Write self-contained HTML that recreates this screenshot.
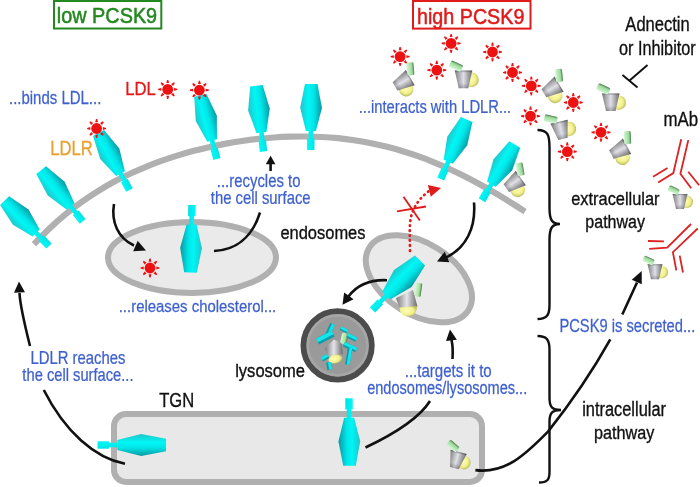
<!DOCTYPE html>
<html><head><meta charset="utf-8"><style>
html,body{margin:0;padding:0;background:#fff;overflow:hidden;width:700px;height:487px;}
svg{display:block;will-change:transform;}
text{font-family:"Liberation Sans",sans-serif;}
</style></head><body>
<svg width="700" height="487" viewBox="0 0 700 487">
<defs><linearGradient id="pcg2" x1="0" y1="0" x2="1" y2="0"><stop offset="0" stop-color="#7a7a7a"/><stop offset="0.5" stop-color="#e4e4ea"/><stop offset="1" stop-color="#6a6a6a"/></linearGradient><linearGradient id="pcgrh" x1="0" y1="0" x2="1" y2="0"><stop offset="0" stop-color="#d4f8d0"/><stop offset="0.65" stop-color="#a8e0a0"/><stop offset="1" stop-color="#4e7e4e"/></linearGradient><linearGradient id="lg1" gradientUnits="userSpaceOnUse" x1="12.91" y1="224.69" x2="28.5" y2="209.45"><stop offset="0" stop-color="#22c4c8"/><stop offset="0.38" stop-color="#00f6f6"/><stop offset="0.62" stop-color="#00e6e8"/><stop offset="1" stop-color="#0a98a2"/></linearGradient><linearGradient id="lg2" gradientUnits="userSpaceOnUse" x1="47.76" y1="195.58" x2="64.68" y2="181.83"><stop offset="0" stop-color="#22c4c8"/><stop offset="0.38" stop-color="#00f6f6"/><stop offset="0.62" stop-color="#00e6e8"/><stop offset="1" stop-color="#0a98a2"/></linearGradient><linearGradient id="lg3" gradientUnits="userSpaceOnUse" x1="100.17" y1="158.95" x2="119.32" y2="148.52"><stop offset="0" stop-color="#22c4c8"/><stop offset="0.38" stop-color="#00f6f6"/><stop offset="0.62" stop-color="#00e6e8"/><stop offset="1" stop-color="#0a98a2"/></linearGradient><linearGradient id="lg4" gradientUnits="userSpaceOnUse" x1="195.77" y1="121.12" x2="216.87" y2="115.63"><stop offset="0" stop-color="#22c4c8"/><stop offset="0.38" stop-color="#00f6f6"/><stop offset="0.62" stop-color="#00e6e8"/><stop offset="1" stop-color="#0a98a2"/></linearGradient><linearGradient id="lg5" gradientUnits="userSpaceOnUse" x1="248.14" y1="110.8" x2="269.81" y2="108.46"><stop offset="0" stop-color="#22c4c8"/><stop offset="0.38" stop-color="#00f6f6"/><stop offset="0.62" stop-color="#00e6e8"/><stop offset="1" stop-color="#0a98a2"/></linearGradient><linearGradient id="lg6" gradientUnits="userSpaceOnUse" x1="300.17" y1="107.86" x2="321.97" y2="108.02"><stop offset="0" stop-color="#22c4c8"/><stop offset="0.38" stop-color="#00f6f6"/><stop offset="0.62" stop-color="#00e6e8"/><stop offset="1" stop-color="#0a98a2"/></linearGradient><linearGradient id="lg7" gradientUnits="userSpaceOnUse" x1="447.26" y1="136.66" x2="467.25" y2="145.37"><stop offset="0" stop-color="#22c4c8"/><stop offset="0.38" stop-color="#00f6f6"/><stop offset="0.62" stop-color="#00e6e8"/><stop offset="1" stop-color="#0a98a2"/></linearGradient><linearGradient id="lg8" gradientUnits="userSpaceOnUse" x1="493.48" y1="159.21" x2="512.25" y2="170.3"><stop offset="0" stop-color="#22c4c8"/><stop offset="0.38" stop-color="#00f6f6"/><stop offset="0.62" stop-color="#00e6e8"/><stop offset="1" stop-color="#0a98a2"/></linearGradient><linearGradient id="lg9" gradientUnits="userSpaceOnUse" x1="201.94" y1="248.26" x2="180.15" y2="247.77"><stop offset="0" stop-color="#22c4c8"/><stop offset="0.38" stop-color="#00f6f6"/><stop offset="0.62" stop-color="#00e6e8"/><stop offset="1" stop-color="#0a98a2"/></linearGradient><linearGradient id="lg10" gradientUnits="userSpaceOnUse" x1="393.96" y1="270" x2="411.58" y2="286.91"><stop offset="0" stop-color="#22c4c8"/><stop offset="0.38" stop-color="#00f6f6"/><stop offset="0.62" stop-color="#00e6e8"/><stop offset="1" stop-color="#0a98a2"/></linearGradient><linearGradient id="lg11" gradientUnits="userSpaceOnUse" x1="141.15" y1="434.1" x2="141.15" y2="455.9"><stop offset="0" stop-color="#22c4c8"/><stop offset="0.38" stop-color="#00f6f6"/><stop offset="0.62" stop-color="#00e6e8"/><stop offset="1" stop-color="#0a98a2"/></linearGradient><linearGradient id="lg12" gradientUnits="userSpaceOnUse" x1="360.22" y1="441.23" x2="338.42" y2="441.4"><stop offset="0" stop-color="#22c4c8"/><stop offset="0.38" stop-color="#00f6f6"/><stop offset="0.62" stop-color="#00e6e8"/><stop offset="1" stop-color="#0a98a2"/></linearGradient><symbol id="sun" overflow="visible"><g fill="#ee1111"><circle r="5.4"/><polygon points="1.4,-6.3 0.6,-9.5 -0.6,-9.5 -1.4,-6.3"/><polygon points="5.44,-3.46 7.14,-6.29 6.29,-7.14 3.46,-5.44"/><polygon points="6.3,1.4 9.5,0.6 9.5,-0.6 6.3,-1.4"/><polygon points="3.46,5.44 6.29,7.14 7.14,6.29 5.44,3.46"/><polygon points="-1.4,6.3 -0.6,9.5 0.6,9.5 1.4,6.3"/><polygon points="-5.44,3.46 -7.14,6.29 -6.29,7.14 -3.46,5.44"/><polygon points="-6.3,-1.4 -9.5,-0.6 -9.5,0.6 -6.3,1.4"/><polygon points="-3.46,-5.44 -6.29,-7.14 -7.14,-6.29 -5.44,-3.46"/></g></symbol><linearGradient id="pcg" x1="0" y1="0" x2="1" y2="0"><stop offset="0" stop-color="#7e7e7e"/><stop offset="0.5" stop-color="#e0e0e8"/><stop offset="1" stop-color="#6e6e6e"/></linearGradient><linearGradient id="pcgv" x1="0" y1="0" x2="0" y2="1"><stop offset="0" stop-color="#000" stop-opacity="0.35"/><stop offset="0.12" stop-color="#000" stop-opacity="0"/><stop offset="0.7" stop-color="#000" stop-opacity="0"/><stop offset="1" stop-color="#000" stop-opacity="0.25"/></linearGradient><radialGradient id="pcy" cx="0.4" cy="0.45" r="0.62"><stop offset="0" stop-color="#ffffb8"/><stop offset="0.65" stop-color="#f2f08c"/><stop offset="1" stop-color="#b8b860"/></radialGradient><linearGradient id="pcgr" x1="0" y1="0" x2="0" y2="1"><stop offset="0" stop-color="#4a7a4a"/><stop offset="0.28" stop-color="#9ad89a"/><stop offset="1" stop-color="#d4f8d4"/></linearGradient><symbol id="pc" overflow="visible"><circle cx="8" cy="0.5" r="7.3" fill="url(#pcy)"/><polygon points="-8.8,-8.8 8.8,-8.8 4.75,8.8 -4.75,8.8" fill="url(#pcg)"/><polygon points="-8.8,-8.8 8.8,-8.8 4.75,8.8 -4.75,8.8" fill="url(#pcgv)"/><rect x="-6.5" y="-3.5" width="13" height="7" rx="1.5" fill="url(#pcgr)" transform="translate(-7.5,-13.3) rotate(25)"/></symbol></defs>
<rect width="700" height="487" fill="#fff"/>
<path d="M34,244.2 C36.67,241.5 44.67,233.05 50,228 C55.33,222.95 60.67,218.28 66,213.9 C71.33,209.52 76.67,205.5 82,201.7 C87.33,197.9 92.67,194.42 98,191.1 C103.33,187.78 108.67,184.68 114,181.8 C119.33,178.92 124.67,176.3 130,173.8 C135.33,171.3 140.67,168.98 146,166.8 C151.33,164.62 156.67,162.6 162,160.7 C167.33,158.8 172.67,157.05 178,155.4 C183.33,153.75 188.67,152.22 194,150.8 C199.33,149.38 204.67,148.1 210,146.9 C215.33,145.7 220.67,144.58 226,143.6 C231.33,142.62 236.67,141.78 242,141 C247.33,140.22 252.67,139.48 258,138.9 C263.33,138.32 268.67,137.87 274,137.5 C279.33,137.13 284.67,136.87 290,136.7 C295.33,136.53 300.67,136.45 306,136.5 C311.33,136.55 316.67,136.72 322,137 C327.33,137.28 332.67,137.67 338,138.2 C343.33,138.73 348.67,139.4 354,140.2 C359.33,141 364.67,141.93 370,143 C375.33,144.07 380.67,145.27 386,146.6 C391.33,147.93 396.67,149.4 402,151 C407.33,152.6 412.67,154.32 418,156.2 C423.33,158.08 428.67,160.13 434,162.3 C439.33,164.47 444.67,166.75 450,169.2 C455.33,171.65 460.67,174.28 466,177 C471.33,179.72 476.67,182.55 482,185.5 C487.33,188.45 492.67,191.53 498,194.7 C503.33,197.87 509.5,201.68 514,204.5 C518.5,207.32 523.17,210.42 525,211.6" fill="none" stroke="#b0b0b0" stroke-width="6.2"/>
<ellipse cx="192" cy="257.5" rx="84" ry="35.5" fill="#eaeaea" stroke="#b0b0b0" stroke-width="6"/>
<ellipse cx="418.9" cy="278.8" rx="58.6" ry="35.6" transform="rotate(32.5 418.9 278.8)" fill="#eaeaea" stroke="#b0b0b0" stroke-width="6"/>
<circle cx="337.6" cy="345.4" r="34.2" fill="#9a9a9a" stroke="#4c4c4c" stroke-width="5.8"/>
<rect x="114" y="414" width="368" height="68" rx="12" fill="#e8e8e8" stroke="#b0b0b0" stroke-width="6"/>
<rect x="54" y="1" width="107.3" height="27.5" fill="none" stroke="#22881f" stroke-width="2"/>
<rect x="413" y="1" width="117.5" height="27.6" fill="none" stroke="#e01b1b" stroke-width="2"/>
<rect x="415" y="283" width="6.5" height="13.5" rx="1.2" fill="url(#pcgrh)" transform="rotate(8 418.2 289.7)"/>
<polygon points="396,298 413,290 417.5,306.5 399.5,308" fill="url(#pcg2)"/>
<path d="M399.5,307.5 L417,306 C417,313 413,316.5 408,316.5 C403,316.5 399.5,313 399.5,307.5 Z" fill="url(#pcy)"/>
<circle cx="337.6" cy="345.4" r="29.8" fill="none" stroke="#a6a6a6" stroke-width="2.5"/>
<polygon points="324.7,348.2 333.7,339.8 341.5,341.8 343,354 328.6,357.5" fill="url(#pcg2)"/>
<ellipse cx="335.4" cy="359" rx="7" ry="4.3" fill="url(#pcy)" transform="rotate(-12 335.4 359)"/>
<rect x="341" y="333" width="6.5" height="11" rx="2" fill="url(#pcgrh)" transform="rotate(12 344.2 338.5)"/>
<line x1="332.5" y1="324" x2="327.5" y2="335" stroke="#0c9ea8" stroke-width="5" stroke-linecap="butt"/>
<line x1="333.32" y1="324.37" x2="328.32" y2="335.37" stroke="#14e6ee" stroke-width="3" stroke-linecap="butt"/>
<line x1="317.5" y1="341.5" x2="333" y2="333.5" stroke="#0c9ea8" stroke-width="6.5" stroke-linecap="butt"/>
<line x1="316.96" y1="340.46" x2="332.46" y2="332.46" stroke="#14e6ee" stroke-width="3.9" stroke-linecap="butt"/>
<line x1="340.5" y1="328.3" x2="347.5" y2="331.5" stroke="#0c9ea8" stroke-width="4" stroke-linecap="butt"/>
<line x1="340.8" y1="327.65" x2="347.8" y2="330.85" stroke="#14e6ee" stroke-width="2.4" stroke-linecap="butt"/>
<line x1="347.3" y1="335.3" x2="356.3" y2="339.8" stroke="#0c9ea8" stroke-width="4.5" stroke-linecap="butt"/>
<line x1="347.66" y1="334.58" x2="356.66" y2="339.08" stroke="#14e6ee" stroke-width="2.7" stroke-linecap="butt"/>
<line x1="343.9" y1="344.3" x2="356.3" y2="350" stroke="#0c9ea8" stroke-width="5" stroke-linecap="butt"/>
<line x1="344.28" y1="343.48" x2="356.68" y2="349.18" stroke="#14e6ee" stroke-width="3" stroke-linecap="butt"/>
<line x1="350.1" y1="347.7" x2="347.3" y2="364.6" stroke="#0c9ea8" stroke-width="4.5" stroke-linecap="butt"/>
<line x1="350.9" y1="347.83" x2="348.1" y2="364.73" stroke="#14e6ee" stroke-width="2.7" stroke-linecap="butt"/>
<line x1="321.9" y1="359.5" x2="328.1" y2="356" stroke="#0c9ea8" stroke-width="4.5" stroke-linecap="butt"/>
<line x1="321.5" y1="358.79" x2="327.7" y2="355.29" stroke="#14e6ee" stroke-width="2.7" stroke-linecap="butt"/>
<line x1="328.6" y1="362.4" x2="329.8" y2="369.7" stroke="#0c9ea8" stroke-width="5" stroke-linecap="butt"/>
<line x1="329.49" y1="362.25" x2="330.69" y2="369.55" stroke="#14e6ee" stroke-width="3" stroke-linecap="butt"/>
<g fill="url(#lg1)"><polygon points="46.35,248.59 51.65,243.41 44.22,235.82 38.93,241"/><polygon points="40.28,240.38 43.57,237.16 37.47,230.92 34.19,234.14"/><polygon points="32.6,236.39 39.75,229.39 28.5,209.45 9.1,196.2 0.1,205 12.91,224.69"/></g>
<g fill="url(#lg2)"><polygon points="79.83,223.63 85.57,218.97 78.63,210.42 72.88,215.08"/><polygon points="74.28,214.59 77.85,211.69 72.17,204.69 68.6,207.59"/><polygon points="66.82,209.68 74.58,203.38 64.68,181.83 46.04,166.18 36.26,174.12 47.76,195.58"/></g>
<g fill="url(#lg3)"><polygon points="126.25,191.77 132.75,188.23 127.57,178.72 121.07,182.26"/><polygon points="122.54,182.03 126.58,179.83 122.33,172.03 118.29,174.23"/><polygon points="116.16,175.96 124.94,171.18 119.32,148.52 104.03,130.09 92.97,136.11 100.17,158.95"/></g>
<g fill="url(#lg4)"><polygon points="213.32,159.93 220.48,158.07 217.71,147.41 210.54,149.28"/><polygon points="212.03,149.41 216.48,148.25 214.21,139.53 209.75,140.69"/><polygon points="207.27,141.85 216.95,139.33 216.87,115.63 206.4,93.66 194.2,96.84 195.77,121.12"/></g>
<g fill="url(#lg5)"><polygon points="259.82,151.9 267.18,151.1 265.99,140.12 258.63,140.91"/><polygon points="260.08,141.26 264.65,140.77 263.68,131.78 259.11,132.28"/><polygon points="256.48,133.07 266.42,131.99 269.81,108.46 262.66,85.12 250.14,86.48 248.14,110.8"/></g>
<g fill="url(#lg6)"><polygon points="307.05,149.97 314.45,150.03 314.53,138.99 307.13,138.94"/><polygon points="308.53,139.45 313.13,139.48 313.2,130.46 308.6,130.42"/><polygon points="305.89,130.9 315.89,130.98 321.97,108.02 317.55,84.05 304.95,83.95 300.17,107.86"/></g>
<g fill="url(#lg7)"><polygon points="437.36,177.42 444.14,180.38 448.47,170.44 441.69,167.48"/><polygon points="442.77,168.5 446.99,170.34 450.54,162.19 446.32,160.36"/><polygon points="443.64,159.74 452.81,163.73 467.25,145.37 472.43,121.97 460.87,116.93 447.26,136.66"/></g>
<g fill="url(#lg8)"><polygon points="478.71,198.37 485.09,202.13 490.59,192.82 484.21,189.06"/><polygon points="485.17,190.2 489.13,192.54 493.63,184.91 489.67,182.57"/><polygon points="487.09,181.62 495.71,186.71 512.25,170.3 520.22,147.75 509.38,141.35 493.48,159.21"/></g>
<g fill="url(#lg9)"><polygon points="195.7,205.08 188.3,204.92 188.05,216.2 195.45,216.37"/><polygon points="194.06,215.84 189.46,215.73 189.26,224.94 193.86,225.04"/><polygon points="196.57,224.6 186.57,224.38 180.15,247.77 184.2,272.36 196.8,272.64 201.94,248.26"/></g>
<g fill="url(#lg10)"><polygon points="369.83,307.44 375.17,312.56 383.11,304.29 377.77,299.16"/><polygon points="378.44,300.49 381.75,303.68 388.22,296.94 384.9,293.75"/><polygon points="382.18,291.83 390.26,299.58 411.58,286.91 425.09,265.39 414.91,255.61 393.96,270"/></g>
<g fill="url(#lg11)"><polygon points="97.5,441.3 97.5,448.7 108.95,448.7 108.95,441.3"/><polygon points="108.45,442.7 108.45,447.3 117.78,447.3 117.78,442.7"/><polygon points="117.28,440 117.28,450 141.15,455.9 166,451.3 166,438.7 141.15,434.1"/></g>
<g fill="url(#lg12)"><polygon points="352.7,398.27 345.3,398.33 345.38,409.61 352.78,409.56"/><polygon points="351.38,409.07 346.78,409.1 346.85,418.31 351.45,418.27"/><polygon points="354.14,417.75 344.14,417.83 338.42,441.4 343.2,465.85 355.8,465.75 360.22,441.23"/></g>
<use href="#sun" transform="translate(167.7,89.4) scale(1)"/>
<use href="#sun" transform="translate(199.4,90.2) scale(1)"/>
<use href="#sun" transform="translate(96.6,128.5) scale(1)"/>
<use href="#sun" transform="translate(150,268) scale(1)"/>
<use href="#sun" transform="translate(400.1,56.6) scale(1)"/>
<use href="#sun" transform="translate(451.1,43.4) scale(1)"/>
<use href="#sun" transform="translate(436.8,70.2) scale(1)"/>
<use href="#sun" transform="translate(492.5,52) scale(1)"/>
<use href="#sun" transform="translate(512.5,72.5) scale(1)"/>
<use href="#sun" transform="translate(531.3,85.9) scale(1)"/>
<use href="#sun" transform="translate(573.3,102.5) scale(1)"/>
<use href="#sun" transform="translate(530.5,116.1) scale(1)"/>
<use href="#sun" transform="translate(601,132.3) scale(1)"/>
<use href="#sun" transform="translate(567.3,151.7) scale(1)"/>
<use href="#pc" transform="translate(402.65,82.05) rotate(60) scale(1)"/>
<use href="#pc" transform="translate(463.5,79.4) rotate(0) scale(1)"/>
<use href="#pc" transform="translate(551.5,88.7) rotate(59) scale(1)"/>
<use href="#pc" transform="translate(610.75,102.2) rotate(0) scale(1)"/>
<use href="#pc" transform="translate(561,130.3) rotate(-13) scale(1)"/>
<use href="#pc" transform="translate(619.2,150.4) rotate(62) scale(1)"/>
<use href="#pc" transform="translate(680,201.4) rotate(0) scale(0.85)"/>
<use href="#pc" transform="translate(655,271.7) rotate(0) scale(0.85)"/>
<use href="#pc" transform="translate(513.5,183) rotate(55) scale(1)"/>
<use href="#pc" transform="translate(456.5,460) rotate(15) scale(0.95)"/>
<path d="M114,204 C111,222 118,238 134,245.5" fill="none" stroke="#111" stroke-width="2.6" />
<polygon points="146,250.5 133.15,251.3 137.71,240.64" fill="#111"/>
<path d="M214,251 C235,250 252,238 260,212.5" fill="none" stroke="#111" stroke-width="2.6" />
<path d="M270.6,171 L270.6,162" fill="none" stroke="#111" stroke-width="2.6" />
<polygon points="270.6,155.7 275.4,164.2 265.8,164.2" fill="#111"/>
<path d="M474,202.5 C476,228 466,248 446,257.5" fill="none" stroke="#111" stroke-width="2.6" />
<polygon points="437,261.5 444.65,251.7 449.41,262.28" fill="#111"/>
<path d="M387,280.2 C370,279.5 357,285 348.5,296.5" fill="none" stroke="#111" stroke-width="2.6" />
<polygon points="342.5,304.8 344.12,292.47 353.59,299.17" fill="#111"/>
<path d="M365.5,447.5 C392,435 418,420 430,401" fill="none" stroke="#111" stroke-width="2.6" />
<path d="M452.5,359 C453,351 452.5,344 451.5,340" fill="none" stroke="#111" stroke-width="2.6" />
<polygon points="450,329.5 456.88,339.7 445.97,341.12" fill="#111"/>
<path d="M125,463.8 C95,458 65,432 43.8,390" fill="none" stroke="#111" stroke-width="2.6" />
<path d="M30,346 C24,322 20,305 19.5,293" fill="none" stroke="#111" stroke-width="2.6" />
<polygon points="19,281.5 24.97,292.25 13.98,292.73" fill="#111"/>
<path d="M475.4,470.1 C505,474 525,455 548,431.6 C570,404 592,372 610.3,339.4" fill="none" stroke="#111" stroke-width="2.6" />
<path d="M622.3,314.5 L637,282.5" fill="none" stroke="#111" stroke-width="2.6" />
<polygon points="641.7,271.1 641.78,284.3 631.75,279.78" fill="#111"/>
<path d="M537.5,130 C548,130 549.5,135 549.5,148 L549.5,208 C549.5,220 552,224 560,224 C552,224 549.5,228 549.5,240 L549.5,305 C549.5,315 547,319 537.5,319" fill="none" stroke="#111" stroke-width="2.4" />
<path d="M537.5,336 C547,336 549.5,340 549.5,350 L549.5,398 C549.5,407 552,410 561,410 C552,410 549.5,413 549.5,422 L549.5,472 C549.5,480 547,482.5 539,482.5" fill="none" stroke="#111" stroke-width="2.4" />
<path d="M647.5,65 L629,81" fill="none" stroke="#111" stroke-width="2" />
<path d="M622.5,75 L637.5,87.5" fill="none" stroke="#111" stroke-width="2" />
<path d="M681.2,139.3 L673.3,173.1 L658.2,182.5" fill="none" stroke="#dd2222" stroke-width="1.8" />
<path d="M688.3,140.1 L680.4,173.8 L691.2,188.2" fill="none" stroke="#dd2222" stroke-width="1.8" />
<path d="M653.1,176.7 L667.5,168.1" fill="none" stroke="#dd2222" stroke-width="1.8" />
<path d="M688.3,171.7 L699.1,185.3" fill="none" stroke="#dd2222" stroke-width="1.8" />
<path d="M691,224 L667.2,247.7 L649.2,248.8" fill="none" stroke="#dd2222" stroke-width="1.8" />
<path d="M697.7,228.5 L672.9,252.2 L676.3,270.3" fill="none" stroke="#dd2222" stroke-width="1.8" />
<path d="M648,241 L663.9,241.4" fill="none" stroke="#dd2222" stroke-width="1.8" />
<path d="M679.7,255.6 L683,272.5" fill="none" stroke="#dd2222" stroke-width="1.8" />
<path d="M410,251 C410,238 409,226 411,217 C414,205 421,197 429,191" fill="none" stroke="#e01b1b" stroke-width="2.7" stroke-dasharray="0.6,4.4" stroke-linecap="round"/>
<polygon points="441,188 430.73,196.63 427.93,184.97" fill="#e01b1b"/>
<path d="M397,211.3 L426,206.5" fill="none" stroke="#e01b1b" stroke-width="1.8" />
<path d="M403.5,196.8 L419.8,220.5" fill="none" stroke="#e01b1b" stroke-width="1.8" />
<text transform="translate(56.85,23.4) scale(0.8783,1)" font-size="22.6" fill="#22881f" stroke="#22881f" stroke-width="0.55">low PCSK9</text>
<text transform="translate(417.02,23.5) scale(0.8725,1)" font-size="22.6" fill="#e01b1b" stroke="#e01b1b" stroke-width="0.55">high PCSK9</text>
<text transform="translate(625.37,30.6) scale(0.8356,1)" font-size="19.8" fill="#111" stroke="#111" stroke-width="0.35">Adnectin</text>
<text transform="translate(618.92,55.2) scale(0.8299,1)" font-size="19.6" fill="#111" stroke="#111" stroke-width="0.35">or Inhibitor</text>
<text transform="translate(9.02,103.6) scale(0.8179,1)" font-size="18.3" fill="#3f60cf" stroke="#3f60cf" stroke-width="0.25">...binds LDL...</text>
<text transform="translate(125.23,94.9) scale(0.8762,1)" font-size="19" fill="#e01b1b" stroke="#e01b1b" stroke-width="0.35">LDL</text>
<text transform="translate(50.34,154.6) scale(0.8197,1)" font-size="20.3" fill="#e8a030" stroke="#e8a030" stroke-width="0.3">LDLR</text>
<text transform="translate(216.83,186.9) scale(0.8512,1)" font-size="17.5" fill="#3f60cf" stroke="#3f60cf" stroke-width="0.25">...recycles to</text>
<text transform="translate(210.76,203.7) scale(0.8487,1)" font-size="17.5" fill="#3f60cf" stroke="#3f60cf" stroke-width="0.25">the cell surface</text>
<text transform="translate(280.41,238.6) scale(0.8672,1)" font-size="19" fill="#111" stroke="#111" stroke-width="0.35">endosomes</text>
<text transform="translate(118.73,312.4) scale(0.8674,1)" font-size="17.2" fill="#3f60cf" stroke="#3f60cf" stroke-width="0.25">...releases cholesterol...</text>
<text transform="translate(358.74,113.3) scale(0.8067,1)" font-size="18.3" fill="#3f60cf" stroke="#3f60cf" stroke-width="0.25">...interacts with LDLR...</text>
<text transform="translate(663.49,126.2) scale(0.8419,1)" font-size="20" fill="#111" stroke="#111" stroke-width="0.35">mAb</text>
<text transform="translate(571.21,205) scale(0.8719,1)" font-size="18.8" fill="#111" stroke="#111" stroke-width="0.35">extracellular</text>
<text transform="translate(585.37,227.9) scale(0.8521,1)" font-size="18.8" fill="#111" stroke="#111" stroke-width="0.35">pathway</text>
<text transform="translate(559.39,332) scale(0.8187,1)" font-size="18" fill="#3f60cf" stroke="#3f60cf" stroke-width="0.25">PCSK9 is secreted...</text>
<text transform="translate(582.22,416.1) scale(0.8488,1)" font-size="19.3" fill="#111" stroke="#111" stroke-width="0.35">intracellular</text>
<text transform="translate(593.96,439.3) scale(0.8623,1)" font-size="18.8" fill="#111" stroke="#111" stroke-width="0.35">pathway</text>
<text transform="translate(404.71,377.2) scale(0.8603,1)" font-size="17.5" fill="#3f60cf" stroke="#3f60cf" stroke-width="0.25">...targets it to</text>
<text transform="translate(367.19,393.8) scale(0.8315,1)" font-size="17.5" fill="#3f60cf" stroke="#3f60cf" stroke-width="0.25">endosomes/lysosomes...</text>
<text transform="translate(30.48,363.5) scale(0.8489,1)" font-size="17.5" fill="#3f60cf" stroke="#3f60cf" stroke-width="0.25">LDLR reaches</text>
<text transform="translate(22.36,381.2) scale(0.8412,1)" font-size="17.5" fill="#3f60cf" stroke="#3f60cf" stroke-width="0.25">the cell surface...</text>
<text transform="translate(235.18,376.6) scale(0.8704,1)" font-size="19" fill="#111" stroke="#111" stroke-width="0.35">lysosome</text>
<text transform="translate(159.23,406.8) scale(0.8513,1)" font-size="19.5" fill="#111" stroke="#111" stroke-width="0.35">TGN</text>
</svg></body></html>
